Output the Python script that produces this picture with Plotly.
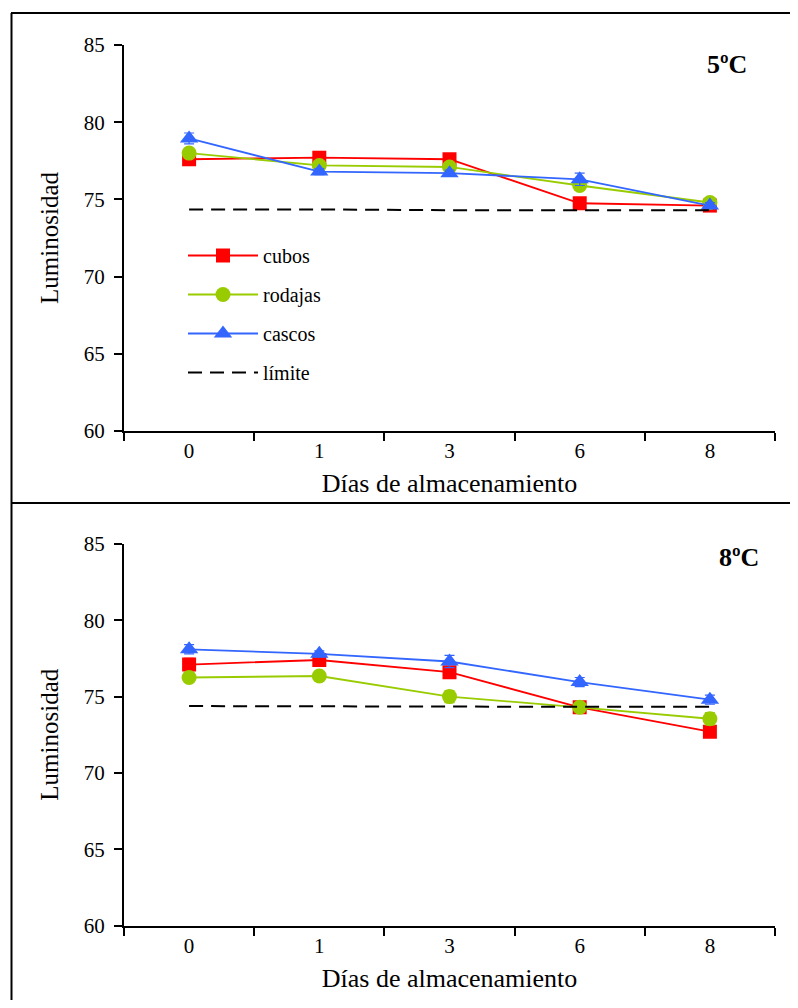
import plotly.graph_objects as go

# page offsets (browser body margin)
OX, OY = 8, 8
W, H = 782, 992
T, B = 30, 30  # fixed figure margins so nothing gets auto-pushed

dias = ["0", "1", "3", "6", "8"]

# Top panel (5 ºC)
cubos_5 = [77.6, 77.7, 77.6, 74.75, 74.6]
rodajas_5 = [78.0, 77.2, 77.1, 75.9, 74.8]
cascos_5 = [78.95, 76.8, 76.7, 76.3, 74.6]
limite_5 = [74.35, 74.35, 74.3, 74.3, 74.3]
err_cubos_5 = [0.3, 0.2, 0.2, 0.2, 0.2]
err_rodajas_5 = [0.2, 0.2, 0.2, 0.3, 0.2]
err_cascos_5 = [0.35, 0.2, 0.2, 0.4, 0.2]

# Bottom panel (8 ºC)
cubos_8 = [77.1, 77.4, 76.6, 74.3, 72.7]
rodajas_8 = [76.25, 76.35, 75.0, 74.3, 73.55]
cascos_8 = [78.1, 77.8, 77.3, 75.95, 74.8]
limite_8 = [74.38, 74.35, 74.33, 74.33, 74.33]
err_cubos_8 = [0.4, 0.3, 0.3, 0.2, 0.2]
err_rodajas_8 = [0.2, 0.2, 0.4, 0.2, 0.4]
err_cascos_8 = [0.3, 0.2, 0.4, 0.3, 0.3]

RED = "#FF0000"
GREEN = "#99CC00"
BLUE = "#3366FF"
FONT = "Liberation Serif"


def px(x):
    return (x - OX) / W


def py(y):
    return 1 - (y - OY - T) / (H - T - B)


fig = go.Figure()


def add_panel(xa, ya, cub, rod, cas, lim, ec, er, ea, show):
    specs = [
        ("cubos", cub, ec, RED, "square", 14),
        ("rodajas", rod, er, GREEN, "circle", 15),
        ("cascos", cas, ea, BLUE, "triangle-up", 16),
    ]
    for name, vals, errs, col, sym, sz in specs:
        fig.add_trace(go.Scatter(
            x=dias, y=vals, name=name, mode="lines+markers",
            xaxis=xa, yaxis=ya, showlegend=show, legendgroup=name,
            line=dict(color=col, width=1.8),
            marker=dict(symbol=sym, size=sz, color=col),
            error_y=dict(type="data", array=errs, color=col, thickness=1.2, width=5),
        ))
    fig.add_trace(go.Scatter(
        x=dias, y=lim, name="límite", mode="lines",
        xaxis=xa, yaxis=ya, showlegend=show, legendgroup="limite",
        line=dict(color="black", width=2, dash="14px,8px"),
    ))


add_panel("x", "y", cubos_5, rodajas_5, cascos_5, limite_5,
          err_cubos_5, err_rodajas_5, err_cascos_5, True)
add_panel("x2", "y2", cubos_8, rodajas_8, cascos_8, limite_8,
          err_cubos_8, err_rodajas_8, err_cascos_8, False)

xdom = [px(124), px(775)]
ydom_top = [py(431), py(45)]
ydom_bot = [py(925.5), py(544)]

xaxis_common = dict(
    type="category", range=[-0.5, 4.5], domain=xdom, automargin=False,
    showline=True, linecolor="black", linewidth=2,
    ticks="outside", tickson="boundaries", ticklen=8, tickcolor="black", tickwidth=1.5,
    showgrid=False, zeroline=False,
    tickfont=dict(family=FONT, size=21, color="black"),
    title=dict(text="Días de almacenamiento", font=dict(family=FONT, size=26, color="black"), standoff=12),
)
yaxis_common = dict(
    range=[60, 85], dtick=5, tick0=60, automargin=False,
    showline=True, linecolor="black", linewidth=2,
    ticks="outside", ticklen=8, tickcolor="black", tickwidth=1.5, ticklabelstandoff=5,
    showgrid=False, zeroline=False,
    tickfont=dict(family=FONT, size=21, color="black"),
    title=dict(text="Luminosidad", font=dict(family=FONT, size=25, color="black"), standoff=18),
)

fig.update_layout(
    width=W, height=H,
    margin=dict(l=0, r=0, t=T, b=B, autoexpand=False),
    paper_bgcolor="white", plot_bgcolor="white",
    font=dict(family=FONT, color="black"),
    xaxis=dict(xaxis_common, anchor="y"),
    yaxis=dict(yaxis_common, domain=ydom_top, anchor="x"),
    xaxis2=dict(xaxis_common, anchor="y2"),
    yaxis2=dict(yaxis_common, domain=ydom_bot, anchor="x2"),
    legend=dict(
        x=px(183), y=py(236), xanchor="left", yanchor="top",
        bgcolor="rgba(0,0,0,0)", font=dict(family=FONT, size=20, color="black"),
        tracegroupgap=10, itemwidth=70,
    ),
    annotations=[
        dict(text="<b>5ºC</b>", x=px(727), y=py(64), xref="paper", yref="paper",
             xanchor="center", yanchor="middle",
             showarrow=False, font=dict(family=FONT, size=26, color="black")),
        dict(text="<b>8ºC</b>", x=px(739), y=py(557), xref="paper", yref="paper",
             xanchor="center", yanchor="middle",
             showarrow=False, font=dict(family=FONT, size=26, color="black")),
    ],
    shapes=[
        dict(type="line", xref="paper", yref="paper", x0=px(11), x1=1.05, y0=py(13), y1=py(13),
             line=dict(color="black", width=2)),
        dict(type="line", xref="paper", yref="paper", x0=px(11), x1=1.05, y0=py(503), y1=py(503),
             line=dict(color="black", width=2)),
        dict(type="line", xref="paper", yref="paper", x0=px(11.5), x1=px(11.5), y0=py(13), y1=py(1040),
             line=dict(color="black", width=2)),
    ],
)

fig.write_html("out.html")
